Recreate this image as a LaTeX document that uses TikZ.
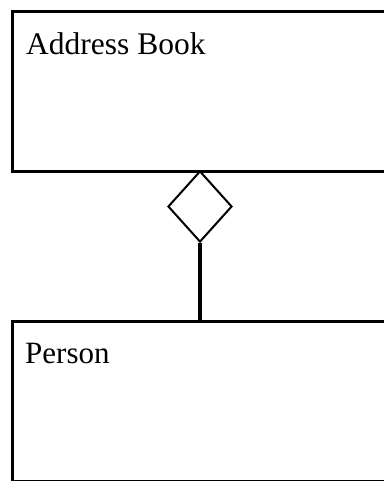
\documentclass[tikz,border=0pt]{standalone}
\usepackage{fontspec}
\setmainfont{Liberation Serif}
\usetikzlibrary{shapes.geometric}
\begin{document}
\begin{tikzpicture}[x=1pt,y=-1pt,
  classbox/.style={draw, line width=3pt, anchor=north west, minimum width=380pt, minimum height=160pt, inner sep=0pt},
  agg/.style={draw, diamond, line width=2pt, minimum width=64pt, minimum height=71pt, inner sep=0pt, fill=white},
  lbl/.style={anchor=base west, inner sep=0pt}]
\useasboundingbox (0,0) rectangle (383,481);
\node[classbox] (book) at (11,10) {};
\node[classbox] (person) at (11,320) {};
\node[lbl, font=\fontsize{31.5}{36}\selectfont] (booklbl) at (26,55) {Address Book};
\node[lbl, font=\fontsize{31}{36}\selectfont] (personlbl) at (25,363) {Person};
\coordinate (dtop) at (200,170);
\node[agg, anchor=north] (dia) at (dtop) {};
\coordinate (ptop) at (200,320);
\draw[line width=4.5pt] (dia.south) -- (ptop);
\end{tikzpicture}
\end{document}
